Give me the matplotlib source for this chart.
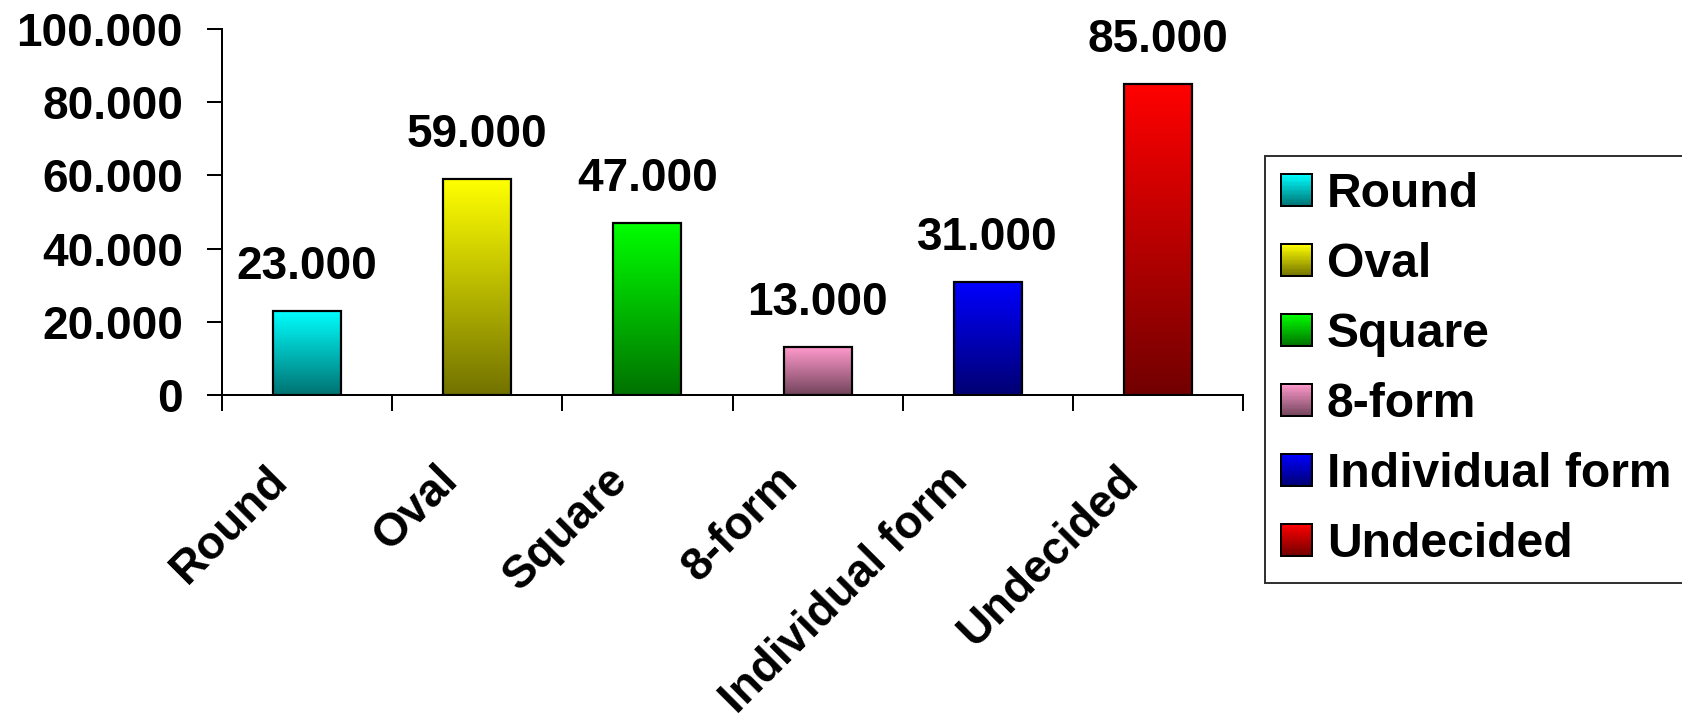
import numpy as np
import matplotlib
matplotlib.use('Agg')
import matplotlib.pyplot as plt
from matplotlib.patches import Patch, Rectangle
from matplotlib.legend_handler import HandlerBase
from matplotlib.transforms import ScaledTranslation

# Data
categories = ['Round', 'Oval', 'Square', '8-form', 'Individual form', 'Undecided']
values = [23, 59, 47, 13, 31, 85]
yticks = [0, 20, 40, 60, 80, 100]
ytick_labels = ['0', '20.000', '40.000', '60.000', '80.000', '100.000']
top_colors = [(0.0, 1.0, 1.0), (1.0, 1.0, 0.0), (0.0, 1.0, 0.0),
              (1.0, 0.6, 0.8), (0.0, 0.0, 1.0), (1.0, 0.0, 0.0)]
dark = 0.45  # bottom of each gradient relative to top colour

plt.rcParams['font.family'] = ['Liberation Sans', 'DejaVu Sans']
plt.rcParams['font.weight'] = 'bold'

DPI = 100
px = 72.0 / DPI  # points per pixel


def gradient(color, n=64):
    c = np.array(color)
    f = np.linspace(1.0, dark, n)[:, None]
    return (c[None, :] * f)[:, None, :]


class GradientHandler(HandlerBase):
    def create_artists(self, legend, orig_handle, xdescent, ydescent,
                       width, height, fontsize, trans):
        c = np.array(orig_handle.get_facecolor()[:3])
        n = 24
        arts = []
        for k in range(n):
            f = dark + (1 - dark) * (k + 0.5) / n
            arts.append(Rectangle((-xdescent, -ydescent + height * k / n),
                                  width, height / n + 0.2, facecolor=c * f,
                                  edgecolor='none', transform=trans))
        arts.append(Rectangle((-xdescent, -ydescent), width, height,
                              fill=False, edgecolor='black', lw=2 * px,
                              transform=trans))
        return arts


fig = plt.figure(figsize=(16.82, 7.21), dpi=DPI)
ax = fig.add_axes([222 / 1682, 1 - 395 / 721, (1243 - 222) / 1682, (395 - 29) / 721])

x = np.arange(len(categories))
w = 0.4
for xi, v, c in zip(x, values, top_colors):
    ax.imshow(gradient(c), extent=[xi - w / 2, xi + w / 2, 0, v],
              aspect='auto', zorder=2, interpolation='bilinear')
ax.bar(x, values, width=w, fill=False, edgecolor='black', linewidth=2.2 * px, zorder=3)

for xi, v in zip(x, values):
    ax.annotate(f'{v:.3f}', (xi, v), xytext=(0, 32 * px), textcoords='offset points',
                ha='center', va='baseline', fontsize=33, fontweight='bold',
                clip_on=False, annotation_clip=False)

ax.set_xlim(-0.5, len(categories) - 0.5)
ax.set_ylim(0, 100)

ax.spines['top'].set_visible(False)
ax.spines['right'].set_visible(False)
for s in ('left', 'bottom'):
    ax.spines[s].set_linewidth(2 * px)

ax.set_yticks(yticks, ytick_labels)
ax.tick_params(axis='y', direction='out', length=15 * px, width=2 * px,
               pad=24 * px, labelsize=33)
ax.set_xticks(np.arange(len(categories) + 1) - 0.5, [''] * (len(categories) + 1))
ax.tick_params(axis='x', direction='out', length=16 * px, width=2 * px)
for lab in ax.get_yticklabels():
    lab.set_fontweight('bold')

off = ScaledTranslation(-18 / DPI, -87 / DPI, fig.dpi_scale_trans)
for xi, name in zip(x, categories):
    ax.text(xi, 0, name, transform=ax.get_xaxis_transform() + off,
            rotation=45, ha='right', va='baseline', rotation_mode='anchor',
            fontsize=33, fontweight='bold')

handles = [Patch(facecolor=c) for c in top_colors]
leg = fig.legend(handles, categories, loc='upper left',
                 bbox_to_anchor=(1265 / 1682, 1 - 156 / 721),
                 bbox_transform=fig.transFigure, borderaxespad=0,
                 fontsize=34.6, frameon=True, fancybox=False,
                 handler_map={Patch: GradientHandler()},
                 handlelength=0.645, handleheight=0.624, handletextpad=0.31,
                 borderpad=0.33, labelspacing=0.52)
leg.get_frame().set_edgecolor('black')
leg.get_frame().set_linewidth(2 * px)
for t in leg.get_texts():
    t.set_fontweight('bold')

fig.savefig('out.png', dpi=DPI)
